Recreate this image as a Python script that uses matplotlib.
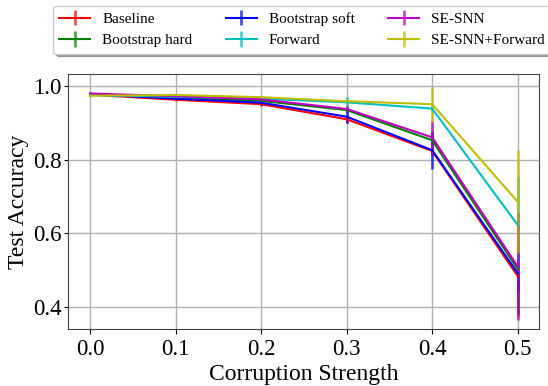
import matplotlib
matplotlib.use("Agg")
import matplotlib.pyplot as plt

plt.rcParams['font.family'] = ['Liberation Serif', 'DejaVu Serif']

x = [0.0, 0.1, 0.2, 0.3, 0.4, 0.5]
labels = ["Baseline", "Bootstrap hard", "Bootstrap soft", "Forward", "SE-SNN", "SE-SNN+Forward"]
colors = ["r", "g", "b", "c", "m", "y"]

baseline = [0.977, 0.963, 0.951, 0.910, 0.824, 0.484]
boot_hard = [0.977, 0.969, 0.960, 0.935, 0.853, 0.503]
boot_soft = [0.978, 0.966, 0.955, 0.917, 0.826, 0.492]
forward = [0.976, 0.971, 0.966, 0.956, 0.939, 0.623]
sesnn = [0.980, 0.973, 0.964, 0.938, 0.861, 0.510]
sesnn_fwd = [0.974, 0.976, 0.970, 0.959, 0.951, 0.686]

err_baseline = [0.003, 0.004, 0.005, 0.010, 0.012, 0.11]
err_boot_hard = [0.003, 0.004, 0.005, 0.008, 0.012, 0.12]
err_boot_soft = [0.003, 0.004, 0.005, 0.017, 0.051, 0.05]
err_forward = [0.003, 0.003, 0.004, 0.015, 0.010, 0.13]
err_sesnn = [0.003, 0.004, 0.004, 0.008, 0.045, 0.145]
err_sesnn_fwd = [0.003, 0.003, 0.004, 0.006, 0.048, 0.14]

series = [baseline, boot_hard, boot_soft, forward, sesnn, sesnn_fwd]
errs = [err_baseline, err_boot_hard, err_boot_soft, err_forward, err_sesnn, err_sesnn_fwd]

fig = plt.figure(figsize=(5.48, 3.86), dpi=100)
ax = fig.add_axes([0.124, 0.1477, 0.8596, 0.6606])

for y, e, c, lab in zip(series, errs, colors, labels):
    line, caps, bars = ax.errorbar(x, y, yerr=e, color=c, label=lab, linewidth=1.5, elinewidth=2)
    for b in bars:
        b.set_alpha(0.7)

ax.set_xlim(-0.026, 0.525)
ax.set_ylim(0.34, 1.033)
ax.set_xticks(x)
ax.set_xticklabels([f"{v:.1f}" for v in x])
ax.set_yticks([0.4, 0.6, 0.8, 1.0])
ax.grid(True, color="#b0b0b0", linewidth=1)
ax.tick_params(labelsize=16.5)
ax.tick_params(axis="y", pad=1.5, length=3)
ax.set_xlabel("Corruption Strength", fontsize=17, labelpad=3)
ax.set_ylabel("Test Accuracy", fontsize=17, labelpad=3)
for s in ax.spines.values():
    s.set_color("#444444")

ax.legend(loc="lower center", bbox_to_anchor=(0.497, 1.08), borderaxespad=0, ncol=3, fontsize=11,
          shadow=True, columnspacing=2.2, labelspacing=0.5)

fig.savefig("out.png", dpi=100)
